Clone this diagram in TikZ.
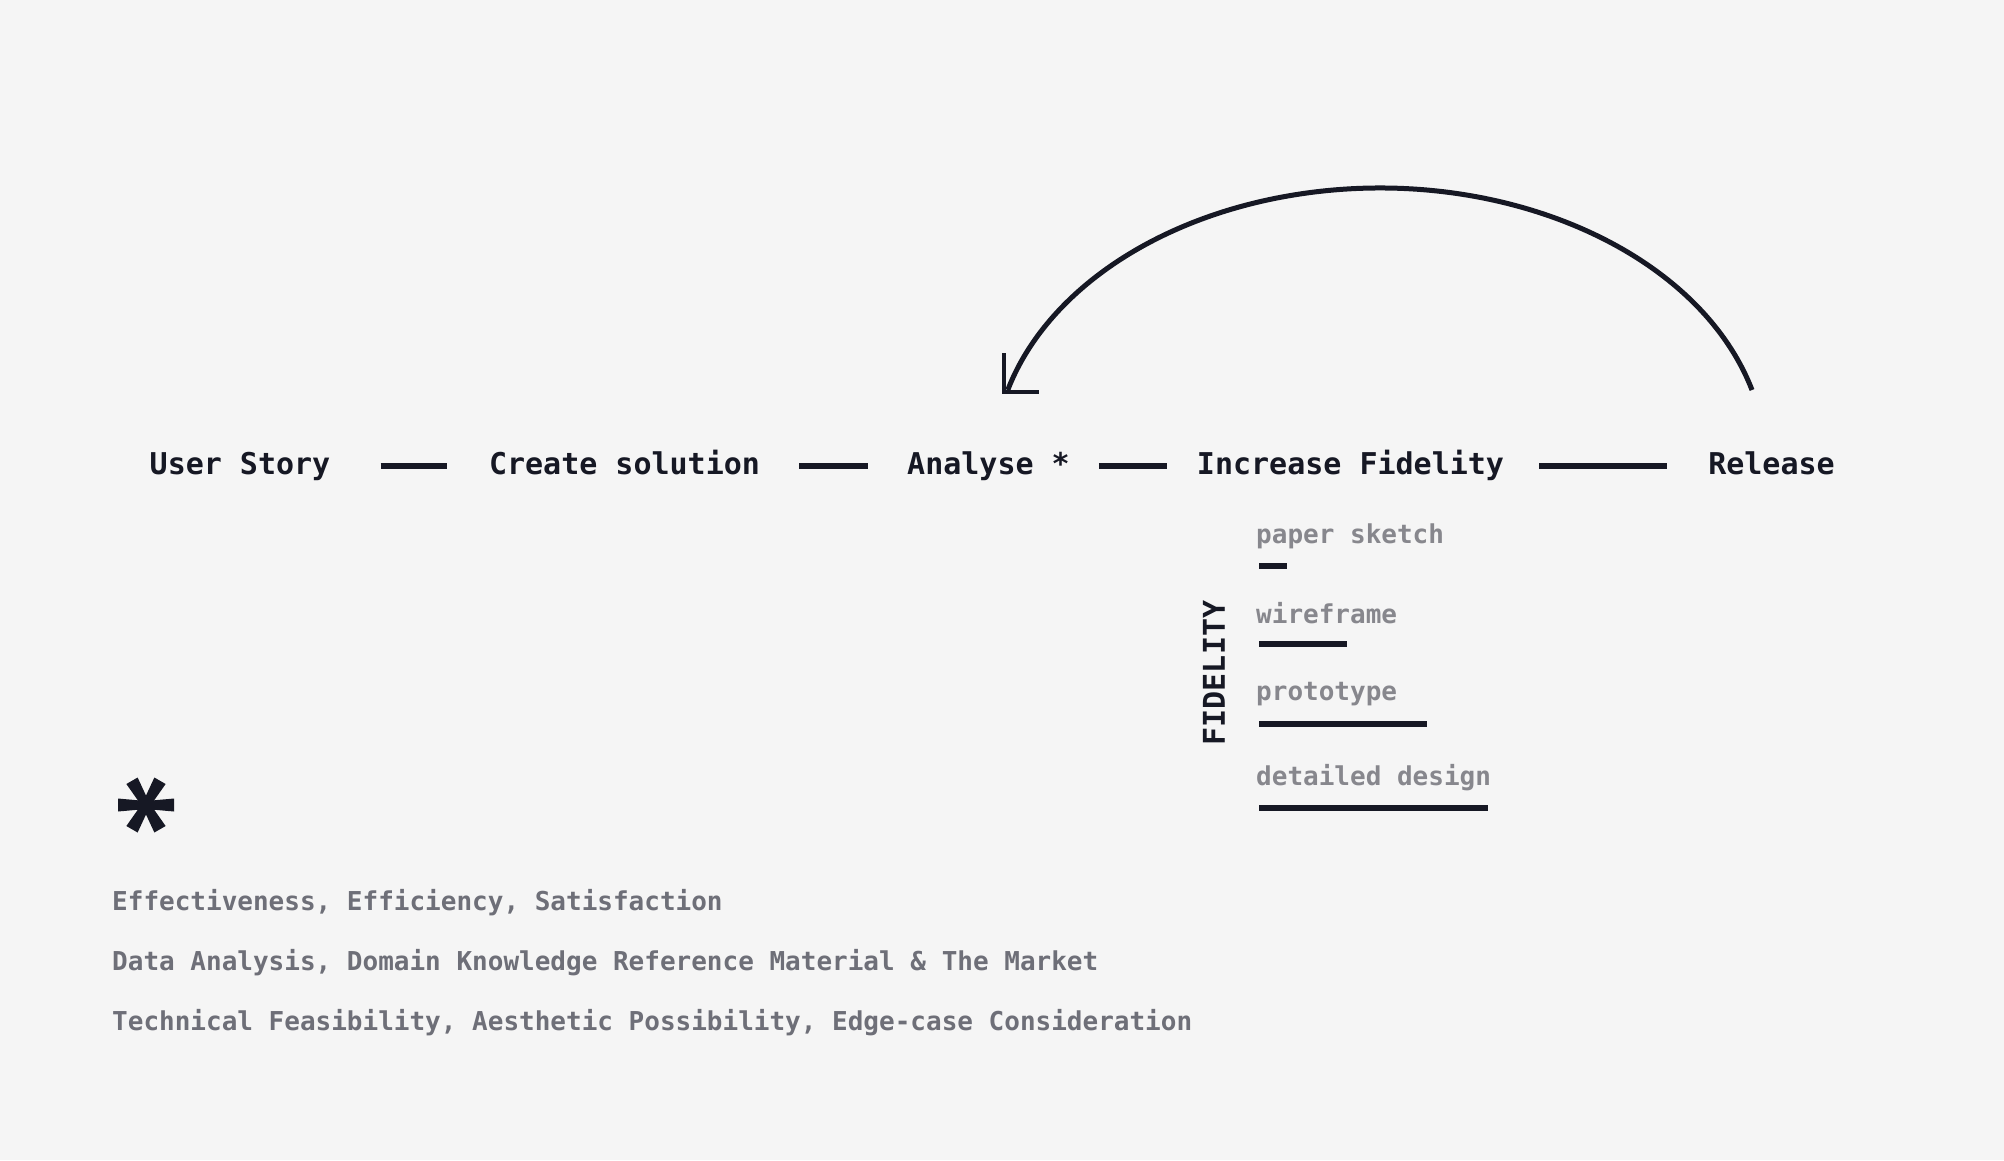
\documentclass[tikz,border=0pt]{standalone}
\usepackage{fontspec}
\setmonofont{DejaVu Sans Mono}
\definecolor{ink}{HTML}{161824}
\definecolor{greyA}{HTML}{87878D}
\definecolor{greyB}{HTML}{6E6F78}
\definecolor{bg}{HTML}{F5F5F5}
\tikzset{
  stage/.style={anchor=base, inner sep=0pt, text=ink, font=\ttfamily\bfseries\fontsize{30}{36}\selectfont},
  conn/.style={draw=ink, line width=6pt},
  levtext/.style={anchor=base west, inner sep=0pt, text=greyA, font=\ttfamily\bfseries\fontsize{26}{32}\selectfont},
  levbar/.style={draw=ink, line width=6pt},
  note/.style={anchor=base west, inner sep=0pt, text=greyB, font=\ttfamily\bfseries\fontsize{26}{32}\selectfont},
}
\begin{document}
\begin{tikzpicture}[x=1pt,y=1pt]
\fill[bg] (0,0) rectangle (2004,-1160);
\useasboundingbox (0,0) rectangle (2004,-1160);
% main row
\node[stage] (us) at (240,-474) {User Story};
\node[stage] (cs) at (624.5,-474) {Create solution};
\node[stage] (an) at (988.5,-474) {Analyse *};
\node[stage] (inc) at (1350.5,-474) {Increase Fidelity};
\node[stage] (rel) at (1771.5,-474) {Release};
\coordinate (row) at (0,-466);
\draw[conn, shorten <=50pt, shorten >=42pt] (us.east |- row) -- (cs.west |- row);
\draw[conn, shorten <=39pt, shorten >=39pt] (cs.east |- row) -- (an.west |- row);
\draw[conn, shorten <=29pt, shorten >=30pt] (an.east |- row) -- (inc.west |- row);
\draw[conn, shorten <=35pt, shorten >=41pt] (inc.east |- row) -- (rel.west |- row);
% loop back arc
\coordinate (arcS) at (1752,-390);
\coordinate (tip) at (1004,-392);
\draw[ink, line width=5pt] (arcS) arc[start angle=15.4, end angle=164.6, x radius=386pt, y radius=275pt];
\draw[ink, line width=4pt, miter limit=10] ([yshift=39pt]tip) -- (tip) -- ([xshift=35pt]tip);
% fidelity levels
\node[stage, anchor=center, rotate=90] (fid) at (1214,-673) {FIDELITY};
\node[levtext] (l1) at (1256,-543) {paper sketch};
\node[levtext] (l2) at (1256,-623) {wireframe};
\node[levtext] (l3) at (1256,-700) {prototype};
\node[levtext] (l4) at (1256,-785) {detailed design};
\draw[levbar] (1259,-566) -- (1287,-566);
\draw[levbar] (1259,-644) -- (1347,-644);
\draw[levbar] (1259,-724) -- (1427,-724);
\draw[levbar] (1259,-808) -- (1488,-808);
% footnote asterisk
\foreach \a in {0,60,...,300}
  \fill[ink, shift={(146,-805)}, rotate=\a] (0,-4) -- (28,-6.5) -- (28,6.5) -- (0,4) -- cycle;
\node[note] (n1) at (112,-910) {Effectiveness, Efficiency, Satisfaction};
\node[note] (n2) at (112,-970) {Data Analysis, Domain Knowledge Reference Material \& The Market};
\node[note] (n3) at (112,-1030) {Technical Feasibility, Aesthetic Possibility, Edge-case Consideration};
\end{tikzpicture}
\end{document}
